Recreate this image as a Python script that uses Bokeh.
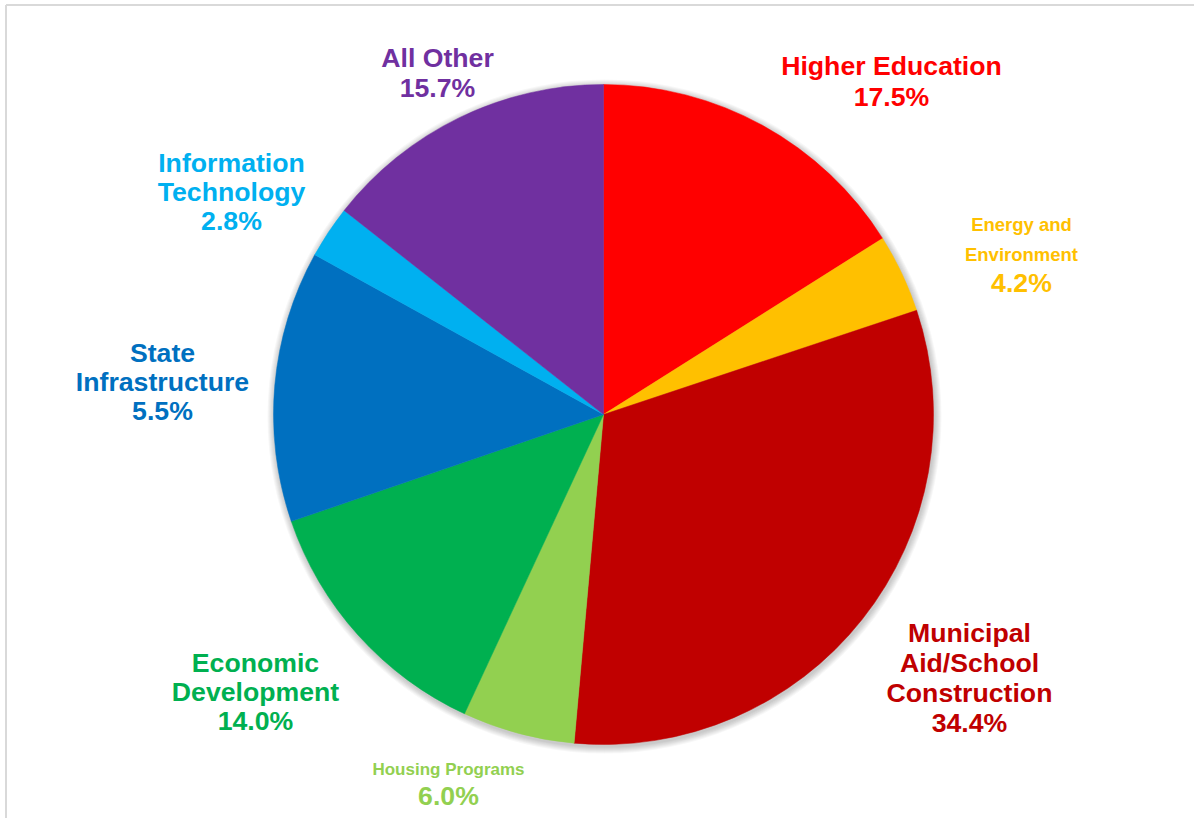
import math
from bokeh.plotting import figure
from bokeh.models import Range1d, ColumnDataSource
from bokeh.core.properties import value
from bokeh.embed import file_html
from bokeh.resources import INLINE

# ---- data (clockwise from 12 o'clock) ----
categories = ["Higher Education", "Energy and Environment", "Municipal Aid/School Construction",
              "Housing Programs", "Economic Development", "State Infrastructure",
              "Information Technology", "All Other"]
slice_values = [17.5, 4.2, 34.4, 6.0, 14.0, 14.5, 2.8, 15.7]   # sizes as drawn
pct_labels = ["17.5%", "4.2%", "34.4%", "6.0%", "14.0%", "5.5%", "2.8%", "15.7%"]
name_lines = [["Higher Education"], ["Energy and", "Environment"],
              ["Municipal", "Aid/School", "Construction"], ["Housing Programs"],
              ["Economic", "Development"], ["State", "Infrastructure"],
              ["Information", "Technology"], ["All Other"]]
colors = ["#FF0000", "#FFC000", "#C00000", "#92D050", "#00B050", "#0070C0", "#00B0F0", "#7030A0"]

# ---- layout (page pixel positions of label line centres) ----
label_x = [891, 1021, 969, 448, 255, 162, 231, 437]
label_first_y = [65, 224, 632, 769, 662, 352, 162, 57]
name_size = [26.67, 18.5, 26.67, 17, 26.67, 26.67, 26.67, 26.67]
name_step = [31, 30, 30, 28, 29, 29, 29, 30]

CX, CY, R = 603, 414, 330
W, H = 1194, 818

p = figure(width=W, height=H, output_backend="svg", toolbar_location=None,
           x_range=Range1d(-CX, W - CX), y_range=Range1d(-(H - CY), CY),
           min_border=0)
p.axis.visible = False
p.grid.visible = False
p.outline_line_color = None
p.background_fill_color = "white"
p.border_fill_color = "white"

# chart frame (left and top edges visible)
p.segment(x0=[5.5 - CX, 5.5 - CX], y0=[CY - 4.5, CY - 4.5],
          x1=[5.5 - CX, W - CX], y1=[-(H - CY), CY - 4.5],
          line_color="#D9D9D9", line_width=2)

# soft shadow
for k in range(1, 8):
    p.circle(x=[1], y=[-2], radius=R + k, fill_color="black", fill_alpha=0.03,
             line_color=None)

total = sum(slice_values)
starts, ends = [], []
cum = 0.0
for v in slice_values:
    starts.append(math.pi / 2 - 2 * math.pi * cum / total)
    cum += v
    ends.append(math.pi / 2 - 2 * math.pi * cum / total)

src = ColumnDataSource(dict(start=starts, end=ends, color=colors, cat=categories))
p.wedge(x=0, y=0, radius=R, start_angle="start", end_angle="end", direction="clock",
        fill_color="color", line_color="color", line_width=0.5, source=src)

font = value("Liberation Sans")
for i in range(len(categories)):
    y = label_first_y[i]
    for line in name_lines[i]:
        p.text(x=[label_x[i] - CX], y=[CY - y], text=[line], text_font=font,
               text_font_size=f"{name_size[i]}px", text_font_style="bold",
               text_color=colors[i], text_align="center", text_baseline="middle")
        y += name_step[i]
    if name_size[i] < 26:
        y -= 2
    p.text(x=[label_x[i] - CX], y=[CY - y], text=[pct_labels[i]], text_font=font,
           text_font_size="26.67px", text_font_style="bold",
           text_color=colors[i], text_align="center", text_baseline="middle")

open("out.html", "w").write(file_html(p, INLINE))
